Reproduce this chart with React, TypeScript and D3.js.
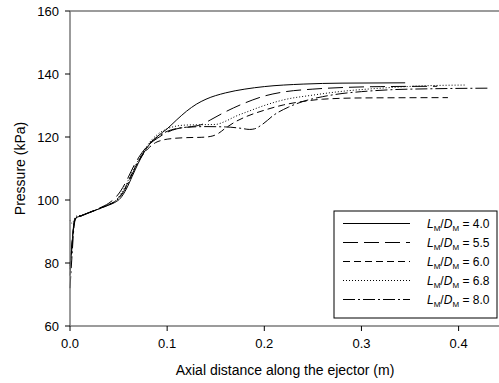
import React from "react";
import * as d3 from "d3";

const xTicks = [0, 0.1, 0.2, 0.3, 0.4];
const yTicks = [60, 80, 100, 120, 140, 160];
const seriesLabels = ["4.0", "5.5", "6.0", "6.8", "8.0"];
const dashes = ["", "15,6", "7,4", "1,2", "12,3,2,3"];

const s40: [number, number][] = [
  [0, 79], [0.002, 86], [0.004, 92], [0.006, 94.3], [0.012, 95], [0.02, 96], [0.03, 97.2], [0.04, 98.4],
  [0.046, 99.2], [0.052, 100.6], [0.058, 103.5], [0.064, 107.5], [0.07, 111.5], [0.076, 115],
  [0.082, 117.7], [0.09, 120.2], [0.1, 122.6], [0.11, 125.5], [0.12, 128.2], [0.13, 130.4],
  [0.14, 132], [0.16, 134], [0.18, 135.2], [0.2, 136], [0.24, 136.8], [0.28, 137.1], [0.345, 137.2],
];
const s55: [number, number][] = [
  [0, 76], [0.002, 85], [0.004, 92.5], [0.006, 94.4], [0.012, 95.1], [0.02, 96.1], [0.03, 97.4], [0.04, 99],
  [0.046, 100.5], [0.052, 102.8], [0.058, 106], [0.066, 111], [0.074, 115], [0.082, 117.8],
  [0.09, 119.6], [0.1, 121.5], [0.11, 122.6], [0.125, 123.3], [0.135, 123.9], [0.145, 125.5],
  [0.16, 128], [0.18, 130.8], [0.2, 133], [0.22, 134.3], [0.25, 135.2], [0.28, 135.7],
  [0.32, 136], [0.378, 136.1],
];
const s60: [number, number][] = [
  [0, 78], [0.002, 86], [0.004, 92.3], [0.006, 94.3], [0.012, 95], [0.02, 96], [0.03, 97.3], [0.04, 98.6],
  [0.046, 99.5], [0.052, 101.4], [0.058, 104.5], [0.064, 108.5], [0.07, 112], [0.076, 114.8],
  [0.082, 116.8], [0.088, 118.2], [0.095, 119], [0.105, 119.5], [0.12, 119.8], [0.135, 119.9],
  [0.145, 120.2], [0.152, 121], [0.16, 122.8], [0.17, 124.8], [0.18, 126.3], [0.2, 128.5],
  [0.22, 130.2], [0.24, 131.3], [0.26, 132], [0.3, 132.4], [0.389, 132.5],
];
const s68: [number, number][] = [
  [0, 93.6], [0.002, 92.6], [0.004, 93.5], [0.006, 94.8], [0.012, 95.2], [0.02, 96.1], [0.03, 97.3], [0.04, 98.6],
  [0.046, 99.5], [0.052, 101.8], [0.058, 105], [0.064, 109], [0.07, 112.5], [0.076, 115.5],
  [0.082, 118.3], [0.09, 120.8], [0.1, 122.6], [0.11, 123.5], [0.12, 123.8], [0.135, 123.9],
  [0.15, 124], [0.16, 125], [0.17, 126.5], [0.185, 128.3], [0.2, 130], [0.22, 131.8],
  [0.25, 133.3], [0.28, 134.5], [0.32, 135.5], [0.36, 136.2], [0.407, 136.5],
];
const s80: [number, number][] = [
  [0, 72], [0.002, 82], [0.004, 91], [0.006, 94.2], [0.012, 95], [0.02, 96], [0.03, 97.2], [0.04, 98.5],
  [0.046, 99.4], [0.052, 101.2], [0.058, 104.2], [0.064, 108.2], [0.07, 112], [0.076, 115.2],
  [0.082, 118], [0.09, 120], [0.1, 121.8], [0.11, 122.7], [0.12, 123.1], [0.14, 123.3],
  [0.16, 123.2], [0.175, 122.8], [0.185, 122.4], [0.19, 122.6], [0.198, 124], [0.21, 127],
  [0.225, 129.5], [0.24, 131.3], [0.26, 132.8], [0.28, 133.8], [0.3, 134.4], [0.33, 135],
  [0.37, 135.3], [0.43, 135.5],
];
const seriesData = [s40, s55, s60, s68, s80];

const W = 499;
const H = 383;
const ml = 70;
const mt = 11;
const plotBottom = 326;
const font = "Liberation Sans, Arial, sans-serif";

export default function App() {
  const x = d3.scaleLinear().domain([0, 0.45]).range([ml, ml + 0.45 * 971.5]);
  const y = d3.scaleLinear().domain([60, 160]).range([plotBottom, mt]);
  const line = d3
    .line<[number, number]>()
    .x((d) => x(d[0]))
    .y((d) => y(d[1]))
    .curve(d3.curveMonotoneX);
  const axisColor = "#7a7a7a";
  const legX = 334;
  const legY = 211;
  const legW = 163;
  const legH = 107;
  const rowY0 = 223.5;
  const rowStep = 19;
  return (
    <svg width={W} height={H} style={{ display: "block", position: "absolute", left: 0, top: 0 }}>
      <rect x={0} y={0} width={W} height={H} fill="#fff" />
      {/* series */}
      <g fill="none" stroke="#000" strokeWidth={1}>
        {seriesData.map((s, i) => (
          <path key={i} d={line(s) || ""} strokeDasharray={dashes[i] || undefined} />
        ))}
      </g>
      {/* axes */}
      <line x1={ml} x2={W + 10} y1={mt} y2={mt} stroke={axisColor} strokeWidth={1.5} />
      <line x1={ml} x2={ml} y1={mt} y2={plotBottom} stroke={axisColor} strokeWidth={1.5} />
      <line x1={ml} x2={W + 10} y1={plotBottom} y2={plotBottom} stroke={axisColor} strokeWidth={1.5} />
      {yTicks.map((t) => (
        <g key={"y" + t}>
          <line x1={ml - 5} x2={ml} y1={y(t)} y2={y(t)} stroke="#000" strokeWidth={1} />
          <text x={ml - 11} y={y(t)} dy="0.35em" textAnchor="end" fontFamily={font} fontSize={13}>
            {t}
          </text>
        </g>
      ))}
      {xTicks.map((t) => (
        <g key={"x" + t}>
          <line x1={x(t)} x2={x(t)} y1={plotBottom} y2={plotBottom + 5} stroke="#000" strokeWidth={1} />
          <text x={x(t)} y={348} textAnchor="middle" fontFamily={font} fontSize={13}>
            {d3.format(".1f")(t)}
          </text>
        </g>
      ))}
      <text x={285} y={375} textAnchor="middle" fontFamily={font} fontSize={14}>
        Axial distance along the ejector (m)
      </text>
      <text
        transform={`translate(25,${(mt + plotBottom) / 2}) rotate(-90)`}
        textAnchor="middle"
        fontFamily={font}
        fontSize={14}
      >
        Pressure (kPa)
      </text>
      {/* legend */}
      <rect x={legX} y={legY} width={legW} height={legH} fill="#fff" stroke="#000" strokeWidth={1} />
      {seriesLabels.map((lab, i) => {
        const yy = rowY0 + i * rowStep;
        return (
          <g key={"l" + i}>
            <line
              x1={343}
              x2={410}
              y1={yy}
              y2={yy}
              stroke="#000"
              strokeWidth={1}
              strokeDasharray={dashes[i] || undefined}
            />
            <text x={427} y={yy} dy="0.35em" fontFamily={font} fontSize={12}>
              <tspan fontStyle="italic">L</tspan>
              <tspan fontSize={8} dy={3}>M</tspan>
              <tspan dy={-3}>/</tspan>
              <tspan fontStyle="italic">D</tspan>
              <tspan fontSize={8} dy={3}>M</tspan>
              <tspan dy={-3}>{" = " + lab}</tspan>
            </text>
          </g>
        );
      })}
    </svg>
  );
}
